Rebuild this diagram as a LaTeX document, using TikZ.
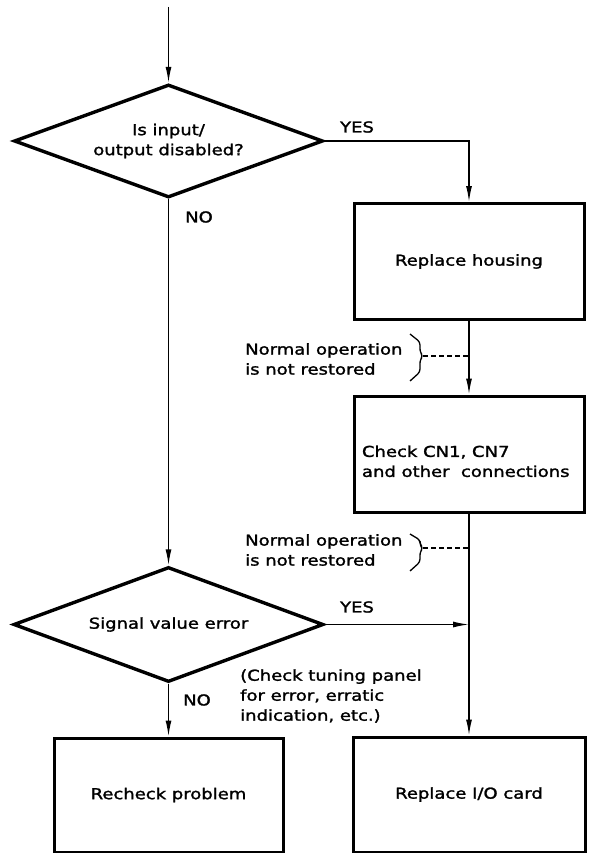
\documentclass[tikz,border=0pt]{standalone}
\usepackage{fontspec}
\setmainfont{DejaVu Sans}[FakeStretch=1.2,FakeBold=1.6]
\usetikzlibrary{shapes.geometric,arrows.meta}
\begin{document}
\begin{tikzpicture}[x=1pt,y=-1pt,
  font=\fontsize{15}{20}\selectfont,
  box/.style={draw, line width=3pt, minimum width=230pt, minimum height=116pt, inner sep=0pt, align=center},
  decision/.style={draw, diamond, aspect=2.7, line width=3.4pt, inner sep=0pt, align=center},
  flow/.style={line width=1.4pt},
  arr/.style={flow, -{Latex[length=16pt,width=6pt]}},
  lbl/.style={inner sep=0pt, align=left},
  brace/.style={line width=1.3pt, rounded corners=3pt},
  dashlink/.style={line width=1.3pt, dash pattern=on 5pt off 3pt}
]
\useasboundingbox (0,0) rectangle (589,853);
\fill[white] (0,0) rectangle (589,853);

\coordinate (start) at (168.5,7);
\node[decision, minimum width=309pt, minimum height=113pt] (d1) at (168.5,141) {Is input/\\output disabled?};
\node[box] (house) at (469,261.5) {Replace housing};
\node[box, text width=214pt, align=flush left] (check) at (469,454) {\mbox{}\\[6pt]Check CN1, CN7\\and other\ \ connections};
\node[decision, minimum width=310pt, minimum height=115pt] (d2) at (168.5,624.5) {Signal value error};
\node[box, minimum width=229pt, minimum height=114pt] (recheck) at (168.5,795) {Recheck problem};
\node[box, minimum width=232pt, minimum height=115pt] (iocard) at (469,794.5) {Replace I/O card};

\draw[arr] (start) -- (d1.north);
\draw[arr] (d1.east) -| (house.north);
\draw[arr] (house.south) -- (check.north);
\draw[arr] (check.south) -- (iocard.north);
\draw[arr] (d1.south) -- (d2.north);
\draw[arr] (d2.east) -- (d2.east -| iocard.north);
\draw[arr] (d2.south) -- (recheck.north);

\node[lbl] (yes1) at (357,127) {YES};
\node[lbl] (no1) at (199,217) {NO};
\node[lbl] (yes2) at (357,607) {YES};
\node[lbl] (no2) at (197,700) {NO};

\node[lbl, anchor=west] (note1) at (245,359) {Normal operation\\is not restored};
\node[lbl, anchor=west] (note2) at (245,550) {Normal operation\\is not restored};
\node[lbl, anchor=west] (tune) at (240,696) {(Check tuning panel\\for error, erratic\\indication, etc.)};

\coordinate (b1) at (423,356);
\draw[brace] (410,334) -- (420,342) -- (420,352) -- (b1) -- (420,360) -- (420,372) -- (410,381);
\draw[dashlink] (b1) -- (b1 -| check.north);

\coordinate (b2) at (423,548);
\draw[brace] (410,534) -- (420,540) -- (420,544) -- (b2) -- (420,552) -- (420,562) -- (410,571);
\draw[dashlink] (b2) -- (b2 -| check.south);
\end{tikzpicture}
\end{document}
